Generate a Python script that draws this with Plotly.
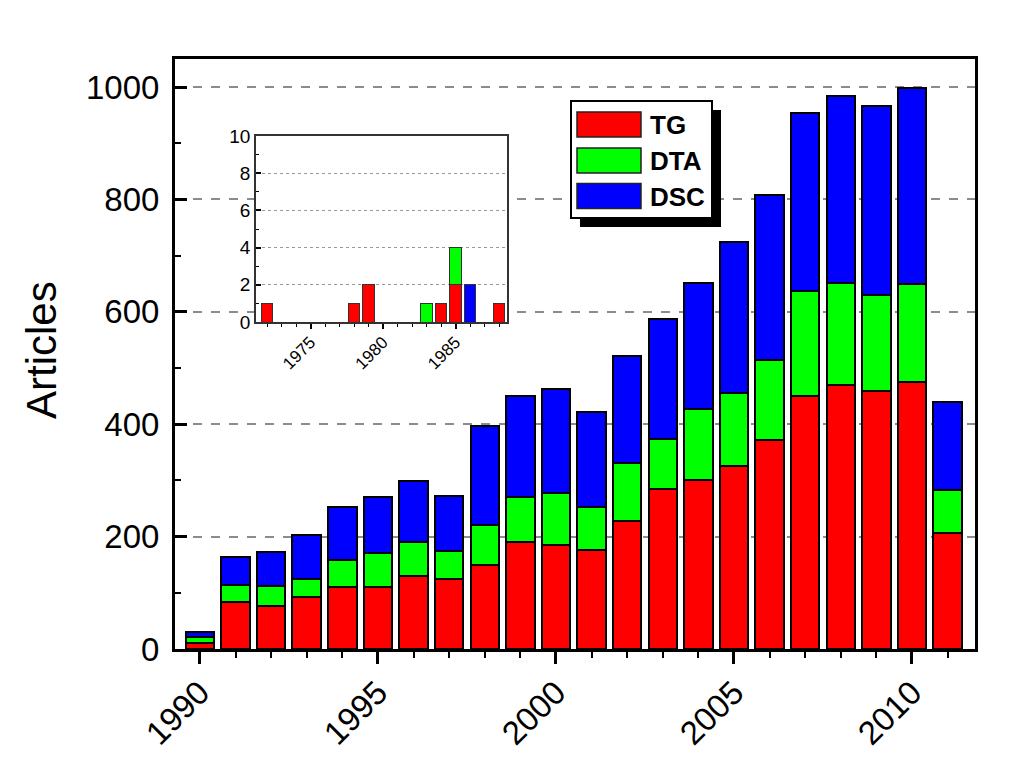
import plotly.graph_objects as go

# ---------------- data ----------------
years = list(range(1990, 2012))
tg = [11, 83, 77, 92, 111, 111, 130, 124, 150, 190, 185, 176, 228, 284, 300, 326, 372, 450, 470, 459, 475, 206]
dta = [10, 31, 35, 32, 47, 60, 60, 50, 71, 81, 92, 77, 103, 90, 128, 130, 142, 187, 182, 171, 175, 77]
dsc = [9, 50, 60, 79, 94, 100, 109, 99, 175, 180, 186, 169, 190, 213, 224, 269, 294, 317, 332, 336, 349, 156]

inset_years = [1972, 1978, 1979, 1983, 1984, 1985, 1986, 1988]
inset_tg = [1, 1, 2, None, 1, 2, None, 1]
inset_dta = [None, None, None, 1, None, 2, None, None]
inset_dsc = [None, None, None, None, None, None, 2, None]

series_names = ["TG", "DTA", "DSC"]
colors = ["#ff0000", "#00ff00", "#0000ff"]

FONT = "Arial, Liberation Sans, sans-serif"
W, H = 1034, 760
OFF = 8  # page body margin offset
L, R, T, B = 175, 975, 59, 649  # plot area pixels (as seen on page)


def px(x):
    return (x - L) / (R - L)


def py(y):
    return (B - y) / (B - T)


fig = go.Figure()
for name, vals, c in zip(series_names, [tg, dta, dsc], colors):
    fig.add_trace(go.Bar(x=years, y=vals, name=name, width=0.8,
                         marker=dict(color=c, line=dict(color="black", width=2)),
                         xaxis="x", yaxis="y", showlegend=False))
for name, vals, c in zip(series_names, [inset_tg, inset_dta, inset_dsc], colors):
    fig.add_trace(go.Bar(x=inset_years, y=vals, name=name + " (inset)", width=0.8,
                         marker=dict(color=c, line=dict(color="#333", width=1)),
                         xaxis="x2", yaxis="y2", showlegend=False))

fig.update_layout(
    width=W, height=H,
    barmode="stack",
    plot_bgcolor="white", paper_bgcolor="white",
    margin=dict(l=L - OFF, r=W - R + OFF, t=T - OFF, b=H - B + OFF, autoexpand=False),
    font=dict(family=FONT, color="black"),
    xaxis=dict(
        domain=[0, 1], range=[1989.3, 2011.77],
        tick0=1990, dtick=5, ticks="outside", ticklen=12, tickwidth=2.5, tickcolor="black",
        minor=dict(ticks="outside", ticklen=6, tickwidth=2, dtick=1, tick0=1990, tickcolor="black"),
        showgrid=False, zeroline=False,
        showline=True, linecolor="black", linewidth=3, mirror=True,
        tickangle=-45, tickfont=dict(size=33, family=FONT, color="black"),
        ticklabelstandoff=-4,
    ),
    yaxis=dict(
        domain=[0, 1], range=[0, 1050],
        tick0=0, dtick=200, ticks="inside", ticklen=12, tickwidth=2.5, tickcolor="black",
        minor=dict(ticks="inside", ticklen=6, tickwidth=2, dtick=100, tick0=0, tickcolor="black", showgrid=False),
        showgrid=True, gridcolor="#8c8c8c", griddash="dash", gridwidth=2,
        zeroline=False,
        showline=True, linecolor="black", linewidth=3, mirror=True,
        tickfont=dict(size=33, family=FONT, color="black"),
        ticklabelstandoff=6,
    ),
    xaxis2=dict(
        domain=[px(256), px(507)], anchor="y2", range=[1971.24, 1988.55],
        tick0=1975, dtick=5, ticks="outside", ticklen=5, tickwidth=1.5, tickcolor="black",
        minor=dict(ticks="outside", ticklen=3, tickwidth=1, dtick=1, tick0=1975, tickcolor="black"),
        showgrid=False, zeroline=False,
        showline=True, linecolor="#333", linewidth=1.5, mirror=True,
        tickangle=-45, tickfont=dict(size=17, family=FONT, color="black"),
        ticklabelstandoff=-3,
    ),
    yaxis2=dict(
        domain=[py(322), py(136)], anchor="x2", range=[0, 10],
        tick0=0, dtick=2, ticks="inside", ticklen=5, tickwidth=1.5, tickcolor="black",
        minor=dict(ticks="inside", ticklen=3, tickwidth=1, dtick=1, tick0=0, tickcolor="black", showgrid=False),
        showgrid=True, gridcolor="#999", griddash="dot", gridwidth=1,
        zeroline=False,
        showline=True, linecolor="#333", linewidth=1.5, mirror=True,
        tickfont=dict(size=19, family=FONT, color="black"),
    ),
)

# y title
fig.add_annotation(text="Articles", xref="paper", yref="paper",
                   x=px(41), y=py(350), textangle=-90, showarrow=False,
                   font=dict(size=42, family=FONT, color="black"),
                   xanchor="center", yanchor="middle")

# custom legend (large swatches, box with drop shadow)
shapes = []
shapes.append(dict(type="rect", xref="paper", yref="paper",
                   x0=px(580), x1=px(721), y0=py(227), y1=py(110),
                   fillcolor="black", line=dict(color="black", width=0), layer="above"))
shapes.append(dict(type="rect", xref="paper", yref="paper",
                   x0=px(571), x1=px(712), y0=py(218), y1=py(101),
                   fillcolor="white", line=dict(color="black", width=2), layer="above"))
sw_tops = [112, 148, 183.5]
for name, c, top in zip(series_names, colors, sw_tops):
    shapes.append(dict(type="rect", xref="paper", yref="paper",
                       x0=px(577), x1=px(641), y0=py(top + 25), y1=py(top),
                       fillcolor=c, line=dict(color="#222", width=1.5), layer="above"))
    fig.add_annotation(text="<b>%s</b>" % name, xref="paper", yref="paper",
                       x=px(648), y=py(top + 13), showarrow=False,
                       xanchor="left", yanchor="middle",
                       font=dict(size=26, family=FONT, color="black"))
fig.update_layout(shapes=shapes)

fig.write_html("out.html")
